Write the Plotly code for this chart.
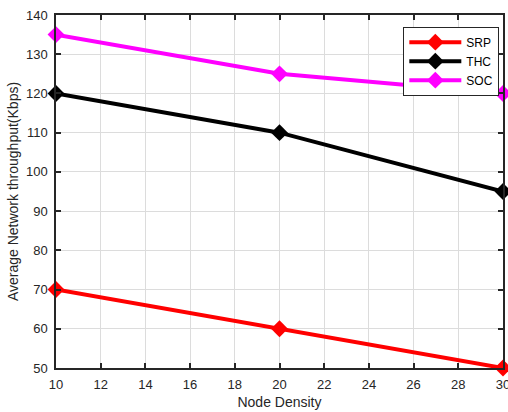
import plotly.graph_objects as go

node_density = [10, 20, 30]
srp = [70, 60, 50]
thc = [120, 110, 95]
soc = [135, 125, 120]
x_ticks = [10, 12, 14, 16, 18, 20, 22, 24, 26, 28, 30]
y_ticks = [50, 60, 70, 80, 90, 100, 110, 120, 130, 140]

series = [("SRP", srp, "#ff0000"), ("THC", thc, "#000000"), ("SOC", soc, "#ff00ff")]

fig = go.Figure()
for name, vals, col in series:
    fig.add_trace(go.Scatter(
        x=node_density, y=vals, name=name, mode="lines+markers",
        line=dict(color=col, width=4),
        marker=dict(symbol="diamond", size=13, color=col),
        cliponaxis=False,
    ))

axis_common = dict(
    showline=True, linecolor="#262626", linewidth=1.5, mirror="ticks",
    ticks="inside", ticklen=5, tickcolor="#262626", tickwidth=1.5,
    showgrid=True, gridcolor="#dcdcdc", gridwidth=1.2,
    zeroline=False, tickfont=dict(family="Liberation Sans, Arial", size=13, color="#262626"),
    ticklabelstandoff=4, automargin=False, ticklabeloverflow="allow",
)

fig.update_layout(
    width=508, height=412,
    margin=dict(l=56, r=5, t=15, b=44),
    paper_bgcolor="white", plot_bgcolor="white",
    font=dict(family="Liberation Sans, Arial", color="#262626"),
    xaxis=dict(range=[10, 30], tickvals=x_ticks, ticktext=[str(v) for v in x_ticks],
               title=dict(text="Node Density", font=dict(size=14), standoff=6),
               **axis_common),
    yaxis=dict(range=[50, 140], tickvals=y_ticks, ticktext=[str(v) for v in y_ticks],
               title=dict(text="Average Network throughput(Kbps)", font=dict(size=14), standoff=4),
               **axis_common),
    legend=dict(x=0.777, y=0.967, xanchor="left", yanchor="top",
                bgcolor="white", bordercolor="#262626", borderwidth=1,
                font=dict(size=12, color="#000000"),
                itemwidth=52, tracegroupgap=0),
    showlegend=True,
)

fig.write_html("out.html")
